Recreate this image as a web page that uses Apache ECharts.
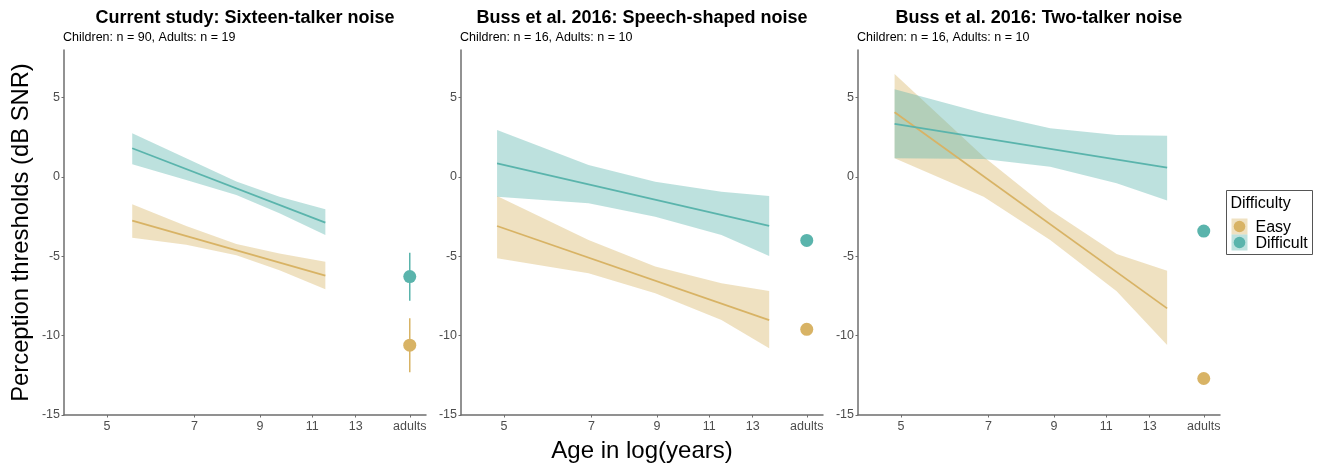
<!DOCTYPE html>
<html>
<head>
<meta charset="utf-8">
<script src="https://cdn.jsdelivr.net/npm/echarts@6/dist/echarts.min.js"></script>
<style>
html,body{margin:0;padding:0;background:#fff;}
#chart{width:1319px;height:464px;}
</style>
</head>
<body>
<div id="chart"></div>
<script>
// ---------- data ----------
const panelTitles = ['Current study: Sixteen-talker noise', 'Buss et al. 2016: Speech-shaped noise', 'Buss et al. 2016: Two-talker noise'];
const panelSubtitles = ['Children: n = 90, Adults: n = 19', 'Children: n = 16, Adults: n = 10', 'Children: n = 16, Adults: n = 10'];
const xTickAges = [5, 7, 9, 11, 13, 16];
const xTickLabels = ['5', '7', '9', '11', '13', 'adults'];
const adultsAge = 16;
const seriesNames = ['Easy', 'Difficult'];

// Panel 1
const p1FitAges = [5.51, 11.57];
const p1EasyFit = [-2.75, -6.22];
const p1DiffFit = [1.81, -2.88];
const p1BandAges = [5.51, 6.78, 8.22, 9.70, 11.57];
const p1EasyHi = [-1.72, -3.09, -4.22, -4.83, -5.34];
const p1EasyLo = [-3.83, -4.27, -4.94, -5.88, -7.08];
const p1DiffHi = [2.75, 1.18, -0.29, -1.24, -2.04];
const p1DiffLo = [0.80, -0.19, -1.13, -2.29, -3.66];

// Panel 2
const p2FitAges = [4.87, 13.85];
const p2EasyFit = [-3.09, -9.02];
const p2DiffFit = [0.86, -3.09];
const p2BandAges = [4.87, 6.92, 8.94, 11.53, 13.85];
const p2EasyHi = [-1.20, -3.97, -5.65, -6.70, -7.19];
const p2EasyLo = [-5.13, -6.07, -7.33, -9.02, -10.80];
const p2DiffHi = [2.96, 0.76, -0.30, -0.93, -1.20];
const p2DiffLo = [-1.24, -1.66, -2.50, -3.66, -4.98];

// Panel 3
const p3FitAges = [4.88, 13.9];
const p3EasyFit = [4.08, -8.28];
const p3DiffFit = [3.34, 0.59];
const p3BandAges = [4.88, 6.87, 8.87, 11.45, 13.9];
const p3EasyHi = [6.49, 1.28, -2.08, -4.85, -5.91];
const p3EasyLo = [1.18, -1.24, -3.97, -7.20, -10.59];
const p3DiffHi = [5.53, 4.02, 3.07, 2.65, 2.59];
const p3DiffLo = [1.18, 1.13, 0.65, -0.40, -1.49];

// Adults (per panel)
const adultsEasy = [-10.6, -9.6, -12.7];
const adultsDiff = [-6.28, -4.0, -3.41];
const adultsEasyErrLo = [-12.3, null, null];
const adultsEasyErrHi = [-8.9, null, null];
const adultsDiffErrLo = [-7.8, null, null];
const adultsDiffErrHi = [-4.77, null, null];

// ---------- styling ----------
const EASY = '#D8B365', DIFF = '#5AB4AC';
const EASY_BAND = 'rgba(216,179,101,0.4)', DIFF_BAND = 'rgba(90,180,172,0.4)';
const FONT = '"Liberation Sans", Arial, sans-serif';
const AXIS_COLOR = '#6E6E6E';
const panelLefts = [64, 461, 858];
const panelWidth = 362;
const gridTop = 50, gridBottom = 49;
const xMinAge = 4.24, xMaxAge = 17.03;

const panels = [
  {fitAges: p1FitAges, easyFit: p1EasyFit, diffFit: p1DiffFit, bandAges: p1BandAges, easyHi: p1EasyHi, easyLo: p1EasyLo, diffHi: p1DiffHi, diffLo: p1DiffLo},
  {fitAges: p2FitAges, easyFit: p2EasyFit, diffFit: p2DiffFit, bandAges: p2BandAges, easyHi: p2EasyHi, easyLo: p2EasyLo, diffHi: p2DiffHi, diffLo: p2DiffLo},
  {fitAges: p3FitAges, easyFit: p3EasyFit, diffFit: p3DiffFit, bandAges: p3BandAges, easyHi: p3EasyHi, easyLo: p3EasyLo, diffHi: p3DiffHi, diffLo: p3DiffLo}
];

const tickVals = xTickAges.map(a => Math.log(a));
function tickLabel(v) {
  let best = 0, bd = Infinity;
  tickVals.forEach((t, i) => { const d = Math.abs(t - v); if (d < bd) { bd = d; best = i; } });
  return xTickLabels[best];
}

const grid = [], xAxis = [], yAxis = [], series = [], title = [];
panels.forEach((p, k) => {
  grid.push({left: panelLefts[k], width: panelWidth, top: gridTop, bottom: gridBottom, containLabel: false, outerBoundsMode: 'none'});
  xAxis.push({
    type: 'value', gridIndex: k, min: Math.log(xMinAge), max: Math.log(xMaxAge),
    axisLine: {show: true, onZero: false, lineStyle: {color: AXIS_COLOR, width: 1.5}},
    axisTick: {show: true, length: 2.5, customValues: tickVals, lineStyle: {color: AXIS_COLOR, width: 1}},
    axisLabel: {customValues: tickVals, formatter: tickLabel, color: '#4D4D4D', fontSize: 12.5, fontFamily: FONT, margin: 5},
    splitLine: {show: false},
    name: k === 1 ? 'Age in log(years)' : '',
    nameLocation: 'middle', nameGap: 24,
    nameTextStyle: {fontSize: 24, color: '#000', fontFamily: FONT}
  });
  yAxis.push({
    type: 'value', gridIndex: k, min: -15, max: 8, interval: 5,
    axisLine: {show: true, onZero: false, lineStyle: {color: AXIS_COLOR, width: 1.5}},
    axisTick: {show: true, length: 2.5, lineStyle: {color: AXIS_COLOR, width: 1}},
    axisLabel: {color: '#4D4D4D', fontSize: 12.5, fontFamily: FONT, margin: 4, showMaxLabel: false},
    splitLine: {show: false},
    name: k === 0 ? 'Perception thresholds (dB SNR)' : '',
    nameLocation: 'middle', nameGap: 31, nameRotate: 90,
    nameTextStyle: {fontSize: 23.8, color: '#000', fontFamily: FONT}
  });
  title.push({
    text: panelTitles[k], left: panelLefts[k] + panelWidth / 2, top: 9, textAlign: 'center', padding: 0,
    textStyle: {fontSize: 18, fontWeight: 'bold', color: '#000', fontFamily: FONT}
  });
  title.push({
    text: panelSubtitles[k], left: panelLefts[k] - 1, top: 31, padding: 0,
    textStyle: {fontSize: 12.5, fontWeight: 'normal', color: '#000', fontFamily: FONT}
  });

  const bandSeries = (ages, hi, lo, fill) => ({
    type: 'custom', xAxisIndex: k, yAxisIndex: k, silent: true, z: 1,
    data: [[Math.log(ages[0]), hi[0]]],
    renderItem: function (params, api) {
      const pts = [];
      ages.forEach((a, i) => pts.push(api.coord([Math.log(a), hi[i]])));
      for (let i = ages.length - 1; i >= 0; i--) pts.push(api.coord([Math.log(ages[i]), lo[i]]));
      return {type: 'polygon', shape: {points: pts}, style: {fill: fill}};
    }
  });
  series.push(bandSeries(p.bandAges, p.easyHi, p.easyLo, EASY_BAND));
  series.push(bandSeries(p.bandAges, p.diffHi, p.diffLo, DIFF_BAND));

  series.push({
    type: 'line', name: seriesNames[0], xAxisIndex: k, yAxisIndex: k, z: 3, showSymbol: false, silent: true,
    data: p.fitAges.map((a, i) => [Math.log(a), p.easyFit[i]]),
    lineStyle: {color: EASY, width: 1.8}, itemStyle: {color: EASY}
  });
  series.push({
    type: 'line', name: seriesNames[1], xAxisIndex: k, yAxisIndex: k, z: 3, showSymbol: false, silent: true,
    data: p.fitAges.map((a, i) => [Math.log(a), p.diffFit[i]]),
    lineStyle: {color: DIFF, width: 1.8}, itemStyle: {color: DIFF}
  });

  // error bars for adults
  const errSeries = (lo, hi, color) => ({
    type: 'custom', xAxisIndex: k, yAxisIndex: k, silent: true, z: 4,
    data: lo[k] == null ? [] : [[Math.log(adultsAge), lo[k], hi[k]]],
    renderItem: function (params, api) {
      const a = api.coord([api.value(0), api.value(1)]);
      const b = api.coord([api.value(0), api.value(2)]);
      return {type: 'line', shape: {x1: a[0], y1: a[1], x2: b[0], y2: b[1]}, style: {stroke: color, lineWidth: 1.5}};
    }
  });
  series.push(errSeries(adultsEasyErrLo, adultsEasyErrHi, EASY));
  series.push(errSeries(adultsDiffErrLo, adultsDiffErrHi, DIFF));

  series.push({
    type: 'scatter', xAxisIndex: k, yAxisIndex: k, z: 5, silent: true, symbolSize: 13,
    data: [[Math.log(adultsAge), adultsEasy[k]]], itemStyle: {color: EASY, opacity: 1}
  });
  series.push({
    type: 'scatter', xAxisIndex: k, yAxisIndex: k, z: 5, silent: true, symbolSize: 13,
    data: [[Math.log(adultsAge), adultsDiff[k]]], itemStyle: {color: DIFF, opacity: 1}
  });
});

// legend (ggplot style key: light square + circle)
const legendGraphic = {
  type: 'group', left: 1226, top: 190,
  children: [
    {type: 'rect', shape: {x: 0, y: 0, width: 86, height: 64}, style: {fill: '#fff', stroke: '#555', lineWidth: 1}},
    {type: 'text', style: {x: 4, y: 13, text: 'Difficulty', fill: '#000', font: '16px ' + FONT, verticalAlign: 'middle'}},
    {type: 'rect', shape: {x: 5, y: 28, width: 16, height: 16}, style: {fill: EASY_BAND}},
    {type: 'circle', shape: {cx: 13, cy: 36, r: 5.8}, style: {fill: EASY}},
    {type: 'text', style: {x: 29, y: 37, text: seriesNames[0], fill: '#000', font: '16px ' + FONT, verticalAlign: 'middle'}},
    {type: 'rect', shape: {x: 5, y: 44, width: 16, height: 16}, style: {fill: DIFF_BAND}},
    {type: 'circle', shape: {cx: 13, cy: 52, r: 5.8}, style: {fill: DIFF}},
    {type: 'text', style: {x: 29, y: 53, text: seriesNames[1], fill: '#000', font: '16px ' + FONT, verticalAlign: 'middle'}}
  ]
};

const chart = echarts.init(document.getElementById('chart'), null, {renderer: 'canvas'});
chart.setOption({
  animation: false,
  backgroundColor: '#fff',
  title: title,
  grid: grid,
  xAxis: xAxis,
  yAxis: yAxis,
  series: series,
  graphic: [legendGraphic]
});
</script>
</body>
</html>
